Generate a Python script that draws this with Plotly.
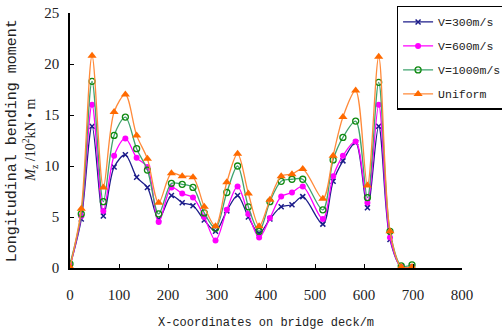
import plotly.graph_objects as go

x_pos = [0, 23, 45, 68, 90, 113, 136, 158, 181, 207, 229, 251, 274, 297, 320, 342,
         364, 386, 408, 431, 453, 475, 516, 537, 557, 583, 607, 630, 653, 676, 698]

v300 = [0.2, 4.8, 13.9, 5.1, 9.9, 11.1, 8.9, 7.9, 4.8, 7.1, 6.4, 6.1, 4.7, 3.6, 5.6, 7.1,
        5.0, 3.4, 4.8, 6.0, 6.2, 7.0, 4.3, 8.5, 10.5, 12.3, 5.9, 13.9, 2.8, 0.1, 0.1]
v600 = [0.2, 5.1, 16.0, 5.6, 11.0, 12.7, 10.8, 9.9, 4.5, 7.9, 7.3, 6.9, 5.0, 2.7, 5.7, 8.0,
        5.3, 3.0, 4.9, 7.0, 7.4, 8.0, 4.8, 9.0, 11.0, 12.4, 6.4, 16.0, 3.0, 0.1, 0.1]
v1000 = [0.4, 5.3, 18.3, 6.5, 13.0, 14.8, 11.7, 9.6, 5.3, 8.3, 8.2, 7.9, 5.4, 3.9, 7.4, 10.0,
         6.0, 3.6, 6.5, 8.5, 8.7, 8.7, 5.7, 10.6, 12.8, 14.4, 6.9, 18.2, 3.6, 0.2, 0.3]
uniform = [0.1, 5.8, 20.8, 7.9, 15.3, 17.0, 13.0, 10.7, 6.4, 9.3, 9.0, 8.9, 6.0, 4.1, 8.4, 11.2,
           7.3, 4.1, 6.7, 9.0, 9.2, 9.7, 6.8, 11.0, 14.8, 17.4, 8.1, 20.7, 3.6, 0.1, 0.1]

names = ["V=300m/s", "V=600m/s", "V=1000m/s", "Uniform"]
x_ticks = [0, 100, 200, 300, 400, 500, 600, 700, 800]
y_ticks = [0, 5, 10, 15, 20, 25]

series = [
    (v300, names[0], "#1c1c8a", dict(symbol="x-thin", size=5, line=dict(color="#1c1c8a", width=1.5))),
    (v600, names[1], "#ff00ff", dict(symbol="circle", size=6, color="#ff00ff")),
    (v1000, names[2], "#3fa36e", dict(symbol="circle-open", size=6, color="#108a10", line=dict(width=1.3))),
    (uniform, names[3], "#ff8a3a", dict(symbol="triangle-up", size=8, color="#ff6a00")),
]

fig = go.Figure()
for i, (ys, nm, col, mk) in enumerate(series):
    fig.add_trace(go.Scatter(
        x=x_pos, y=ys, name=nm, mode="lines+markers", legendgroup=f"g{i}",
        line=dict(color=col, width=1.3, shape="spline", smoothing=0.9),
        marker=mk,
    ))

fig.update_layout(
    width=502, height=329,
    margin=dict(l=70, r=40, t=13, b=61, autoexpand=False),
    paper_bgcolor="white", plot_bgcolor="white",
    showlegend=True,
    legend=dict(
        xref="container", yref="container",
        x=0.79, y=0.982, xanchor="left", yanchor="top",
        bgcolor="white", bordercolor="black", borderwidth=1.5,
        font=dict(family="Liberation Mono", size=11.5, color="#222"),
        itemwidth=30, tracegroupgap=5,
    ),
    font=dict(family="Liberation Serif", size=15, color="#222"),
)

fig.update_xaxes(
    range=[0, 800], tickvals=x_ticks, ticks="inside", ticklen=4, tickwidth=1,
    tickcolor="black", showline=True, linecolor="black", linewidth=1.5,
    showgrid=False, zeroline=False, ticklabelstandoff=12,
    tickfont=dict(family="Liberation Serif", size=15, color="#222"),
)
fig.update_yaxes(
    range=[0, 25], tickvals=y_ticks, ticks="inside", ticklen=4, tickwidth=1,
    tickcolor="black", showline=True, linecolor="black", linewidth=1.5,
    showgrid=False, zeroline=False, ticklabelstandoff=6,
    tickfont=dict(family="Liberation Serif", size=15, color="#222"),
)

fig.add_annotation(
    text="X-coordinates on bridge deck/m", xref="paper", yref="paper",
    x=0.5, y=-0.18, xanchor="center", yanchor="top", showarrow=False,
    font=dict(family="Liberation Mono", size=12, color="#222"),
)
fig.add_annotation(
    text="Longitudinal bending moment", xref="paper", yref="paper",
    x=-0.146, y=0.5, xanchor="center", yanchor="middle", showarrow=False,
    textangle=-90, font=dict(family="Liberation Mono", size=15, color="#222"),
)
fig.add_annotation(
    text="<i>M</i><sub>z</sub> /10<sup>2</sup>kN \u2022 m", xref="paper", yref="paper",
    x=-0.104, y=0.5, xanchor="center", yanchor="middle", showarrow=False,
    textangle=-90, font=dict(family="Liberation Serif", size=14, color="#222"),
)

fig.write_html("out.html")
